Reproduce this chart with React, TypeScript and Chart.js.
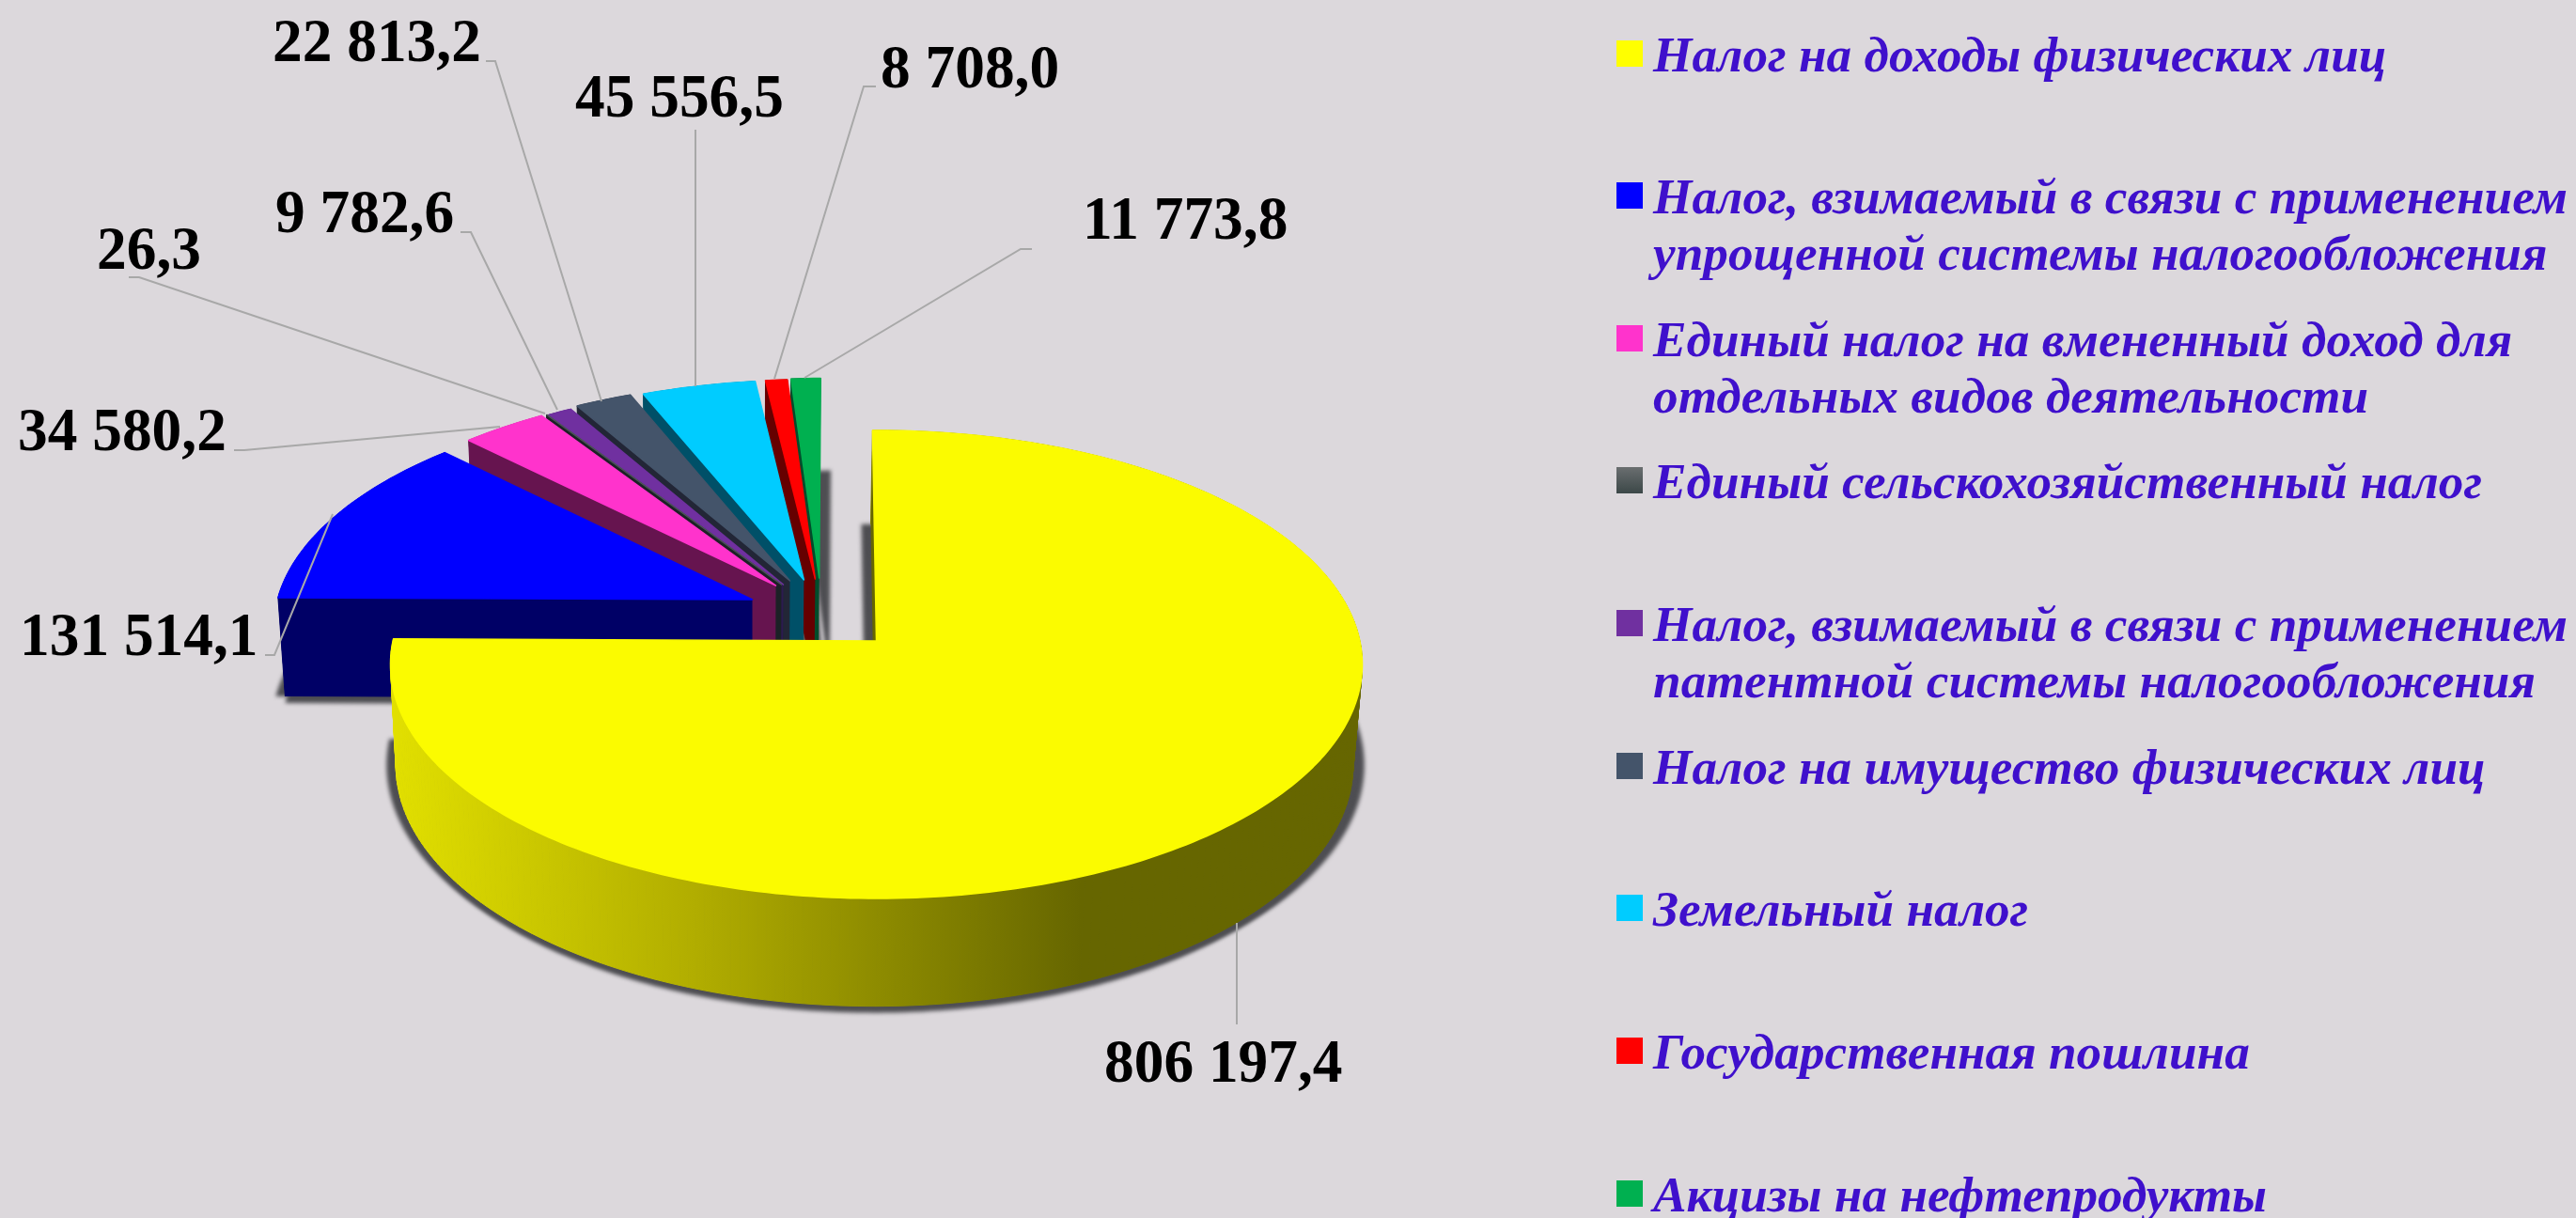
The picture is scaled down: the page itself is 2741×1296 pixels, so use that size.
import React, { useEffect, useRef } from "react";
import { Chart, registerables } from "chart.js";

Chart.register(...registerables);

const categories = [
  "Налог на доходы физических лиц",
  "Налог, взимаемый в связи с применением упрощенной системы налогообложения",
  "Единый налог на вмененный доход для отдельных видов деятельности",
  "Единый сельскохозяйственный налог",
  "Налог, взимаемый в связи с применением патентной системы налогообложения",
  "Налог на имущество физических лиц",
  "Земельный налог",
  "Государственная пошлина",
  "Акцизы на нефтепродукты",
];
const legendLines = [
  ["Налог на доходы физических лиц"],
  ["Налог, взимаемый в связи с применением", "упрощенной системы налогообложения"],
  ["Единый налог на вмененный доход для", "отдельных видов деятельности"],
  ["Единый сельскохозяйственный налог"],
  ["Налог, взимаемый в связи с применением", "патентной системы налогообложения"],
  ["Налог на имущество физических лиц"],
  ["Земельный налог"],
  ["Государственная пошлина"],
  ["Акцизы на нефтепродукты"],
];
const values = [806197.4, 131514.1, 34580.2, 26.3, 9782.6, 22813.2, 45556.5, 8708.0, 11773.8];
const valueLabels = ["806 197,4", "131 514,1", "34 580,2", "26,3", "9 782,6", "22 813,2", "45 556,5", "8 708,0", "11 773,8"];
const topColors = ["#FBFB00", "#0000FF", "#FF33CC", "#4A5454", "#7030A0", "#44546A", "#00CCFF", "#FF0000", "#00B050"];
const legendColors = ["#FFFF00", "#0000FF", "#FF33CC", "#4A5454", "#7030A0", "#44546A", "#00CCFF", "#FF0000", "#00B050"];
const wallColors = ["#666600", "#000066", "#66144F", "#1C2126", "#2C1A50", "#222636", "#005068", "#660000", "#004D2B"];

// Exploded offset of every slice on the ground plane of the pie (1 = one radius).
const explodeX = [0, -0.2613, -0.2131, -0.2013, -0.1973, -0.1836, -0.154, -0.13, -0.1215];
const explodeY = [0, 0.1818, 0.2452, 0.2495, 0.2495, 0.2666, 0.271, 0.275, 0.2793];

// Value label: left x, baseline y.
const labelX = [1175, 21, 19, 103, 293, 290, 612, 937, 1152];
const labelY = [1151, 697, 479, 286, 247, 65, 124, 93, 254];
// Leader lines as x,y pairs.
const leaders = [
  [1316, 982, 1316, 1090],
  [282, 697, 292, 697, 354, 547],
  [249, 479, 260, 479, 532, 454],
  [137, 295, 148, 295, 580, 440],
  [490, 247, 501, 247, 593, 436],
  [517, 65, 527, 65, 640, 427],
  [740, 138, 740, 411],
  [932, 92, 919, 92, 824, 403],
  [1098, 265, 1086, 265, 856, 402],
];
const legendSquareY = [43, 194, 346, 497, 649, 801, 952, 1104, 1256];

const BG = "#DCD8DC";
const CX = 932.5, CY = 682, PERSP = 0.1004, SCALE_X = 514.4, SCALE_Y = 246.5;

type P = [number, number];
const project = (X: number, Y: number): P => {
  const w = 1 + PERSP * Y;
  return [CX + (SCALE_X * X) / w, CY - (SCALE_Y * Y) / w];
};
const lower = ([x, y]: P): P => [932 + (x - 932) * 0.985 - 2, y + 105 + (y - 635) * 0.03];

function slicePoints(arc: any, i: number) {
  const a0 = arc.startAngle + Math.PI / 2;
  const a1 = arc.endAngle + Math.PI / 2;
  const ox = explodeX[i], oy = explodeY[i];
  const n = Math.max(2, Math.ceil(((a1 - a0) * 180) / Math.PI));
  const rim: P[] = [];
  for (let k = 0; k <= n; k++) {
    const t = a0 + ((a1 - a0) * k) / n;
    rim.push(project(ox + Math.sin(t), oy + Math.cos(t)));
  }
  return { apex: project(ox, oy), rim };
}

function poly(ctx: CanvasRenderingContext2D, pts: P[]) {
  ctx.beginPath();
  pts.forEach((p, i) => (i ? ctx.lineTo(p[0], p[1]) : ctx.moveTo(p[0], p[1])));
  ctx.closePath();
}

const pie3dPlugin = {
  id: "pie3d",
  beforeDraw(chart: any) {
    const ctx = chart.ctx;
    ctx.save();
    ctx.fillStyle = BG;
    ctx.fillRect(0, 0, chart.width, chart.height);
    ctx.restore();
  },
  beforeDatasetsDraw(chart: any) {
    const ctx: CanvasRenderingContext2D = chart.ctx;
    const arcs = chart.getDatasetMeta(0).data;
    const shapes = arcs.map((a: any, i: number) => slicePoints(a, i));
    ctx.save();
    ctx.lineJoin = "round";

    // soft shadow round the base
    ctx.filter = "blur(2px)";
    ctx.fillStyle = "#4E4E52";
    shapes.forEach((s: any) => {
      const base: P[] = [lower(s.apex), ...s.rim.map(lower)];
      ([[-10, 0], [12, 0], [0, 7]] as P[]).forEach(([dx, dy]) => {
        poly(ctx, base.map(([x, y]) => [x + dx, y + dy] as P));
        ctx.fill();
      });
    });
    ctx.filter = "none";

    const yellowSide = ctx.createLinearGradient(416, 0, 1150, 0);
    yellowSide.addColorStop(0, "#E2E000");
    yellowSide.addColorStop(0.45, "#B0AC00");
    yellowSide.addColorStop(1, "#666600");

    for (let i = shapes.length - 1; i >= 0; i--) {
      const { apex, rim } = shapes[i];
      const side = i === 0 ? yellowSide : wallColors[i];
      ctx.fillStyle = side;
      ctx.strokeStyle = side;
      ctx.lineWidth = 1;
      for (let k = 0; k < rim.length - 1; k++) {
        poly(ctx, [rim[k], rim[k + 1], lower(rim[k + 1]), lower(rim[k])]);
        ctx.fill();
        ctx.stroke();
      }
      // wall of the start edge
      ctx.fillStyle = wallColors[i];
      poly(ctx, [apex, rim[0], lower(rim[0]), lower(apex)]);
      ctx.fill();
      // top face, with a hairline of its own colour so no wall peeps out behind it
      ctx.fillStyle = topColors[i];
      ctx.strokeStyle = topColors[i];
      ctx.lineWidth = 1.5;
      poly(ctx, [apex, ...rim]);
      ctx.fill();
      ctx.stroke();
    }
    ctx.restore();
    return false;
  },
  afterDraw(chart: any) {
    const ctx: CanvasRenderingContext2D = chart.ctx;
    ctx.save();
    // leaders
    ctx.strokeStyle = "#A8A8A8";
    ctx.lineWidth = 2;
    leaders.forEach((l) => {
      ctx.beginPath();
      for (let k = 0; k < l.length; k += 2) {
        if (k) ctx.lineTo(l[k], l[k + 1]);
        else ctx.moveTo(l[k], l[k + 1]);
      }
      ctx.stroke();
    });
    // value labels
    ctx.fillStyle = "#000000";
    ctx.font = 'bold 65px "Liberation Serif"';
    ctx.textBaseline = "alphabetic";
    valueLabels.forEach((t, i) => {
      ctx.save();
      ctx.translate(labelX[i], labelY[i]);
      ctx.scale(0.975, 1);
      ctx.fillText(t, 0, 0);
      ctx.restore();
    });
    // legend
    ctx.font = 'italic bold 53px "Liberation Serif"';
    const squeeze = 973 / ctx.measureText(legendLines[1][0]).width;
    legendLines.forEach((lines, i) => {
      const y = legendSquareY[i];
      if (i === 3) {
        const g = ctx.createLinearGradient(0, y, 0, y + 29);
        g.addColorStop(0, "#6A6E70");
        g.addColorStop(1, "#3A4646");
        ctx.fillStyle = g;
      } else {
        ctx.fillStyle = legendColors[i];
      }
      ctx.fillRect(1720, y, 28, 28);
      ctx.fillStyle = "#3F10CC";
      lines.forEach((line, j) => {
        ctx.save();
        ctx.translate(1759, y + 32.5 + j * 60.5);
        ctx.scale(squeeze, 1);
        ctx.fillText(line, 0, 0);
        ctx.restore();
      });
    });
    ctx.restore();
  },
};

export default function App() {
  const ref = useRef<HTMLCanvasElement>(null);
  useEffect(() => {
    document.body.style.margin = "0";
    document.body.style.overflow = "hidden";
    const chart = new Chart(ref.current as HTMLCanvasElement, {
      type: "pie",
      data: {
        labels: categories,
        datasets: [{ data: values, backgroundColor: topColors, borderWidth: 0 }],
      },
      options: {
        responsive: false,
        animation: false,
        rotation: -0.5,
        events: [],
        plugins: { legend: { display: false }, tooltip: { enabled: false } },
      },
      plugins: [pie3dPlugin],
    } as any);
    return () => chart.destroy();
  }, []);
  return <canvas ref={ref} width={2741} height={1296} style={{ display: "block" }} />;
}
